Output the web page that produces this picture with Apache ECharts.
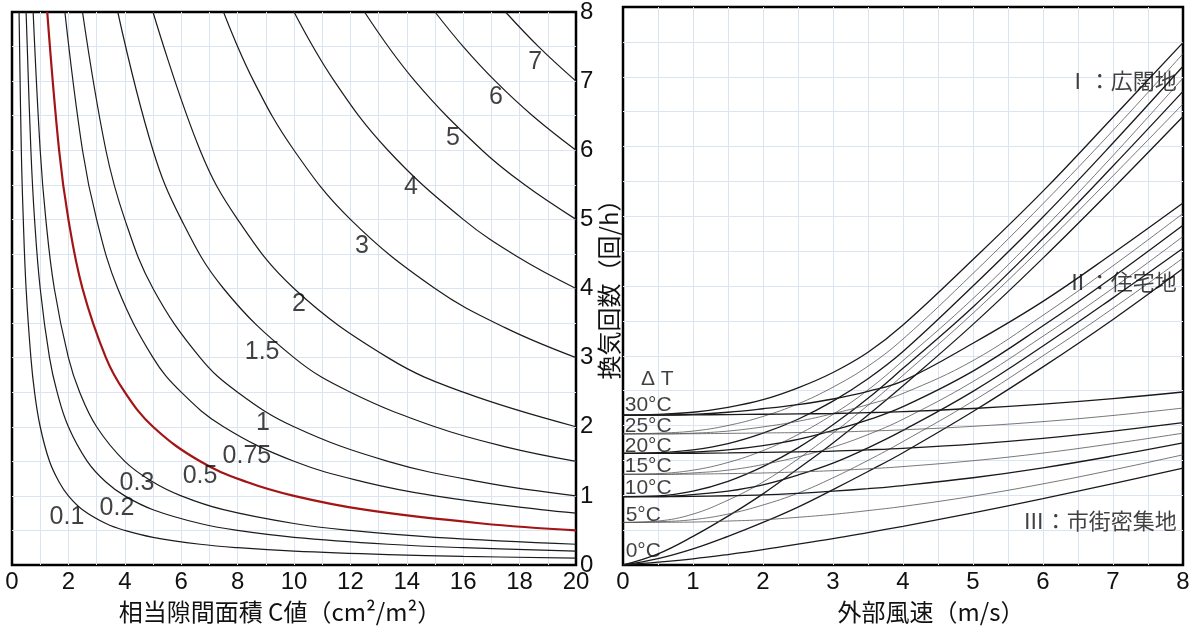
<!DOCTYPE html>
<html>
<head>
<meta charset="utf-8">
<script src="https://cdn.jsdelivr.net/npm/echarts@6/dist/echarts.min.js"></script>
<style>
html,body{margin:0;padding:0;background:#fff;}
#chart{width:1193px;height:633px;}
</style>
</head>
<body>
<div id="chart"></div>
<script>
// ---------- Left panel: 相当隙間面積 C値 vs 換気回数 ----------
const leftXTicks = [0, 2, 4, 6, 8, 10, 12, 14, 16, 18, 20];
const rightXTicks = [0, 1, 2, 3, 4, 5, 6, 7, 8];
const yTicks = [0, 1, 2, 3, 4, 5, 6, 7, 8];

const curveNames = ['0.1', '0.2', '0.3', '0.5', '0.75', '1', '1.5', '2', '3', '4', '5', '6', '7'];
const c_01 = [[0.25,8],[0.33,6],[0.4,5],[0.5,4],[0.67,3],[0.8,2.5],[1,2],[1.33,1.5],[1.67,1.2],[2,1],[2.5,0.8],[3.33,0.6],[4,0.5],[5,0.4],[6.67,0.3],[8,0.25],[10,0.2],[13.33,0.15],[16,0.125],[20,0.1]];
const c_02 = [[0.5,8],[0.67,6],[0.8,5],[1,4],[1.33,3],[1.6,2.5],[2,2],[2.67,1.5],[3.33,1.2],[4,1],[5,0.8],[6.67,0.6],[8,0.5],[10,0.4],[13.33,0.3],[16,0.25],[20,0.2]];
const c_03 = [[0.75,8],[1,6],[1.2,5],[1.5,4],[2,3],[2.4,2.5],[3,2],[4,1.5],[5,1.2],[6,1],[7.5,0.8],[10,0.6],[12,0.5],[15,0.4],[20,0.3]];
const c_05 = [[1.25,8],[1.67,6],[2,5],[2.5,4],[3.33,3],[4,2.5],[5,2],[6.67,1.5],[8.33,1.2],[10,1],[12.5,0.8],[16.67,0.6],[20,0.5]];
const c_075 = [[1.875,8],[2.5,6],[3,5],[3.75,4],[5,3],[6,2.5],[7.5,2],[10,1.5],[12.5,1.2],[15,1],[18.75,0.8],[20,0.75]];
const c_1 = [[2.5,8],[3.33,6],[4,5],[5,4],[6.67,3],[8,2.5],[10,2],[13.33,1.5],[16.67,1.2],[20,1]];
const c_15 = [[3.75,8],[5,6],[6,5],[7.5,4],[10,3],[12,2.5],[15,2],[17.5,1.71],[20,1.5]];
const c_2 = [[5,8],[6.67,6],[8,5],[10,4],[13.33,3],[16,2.5],[20,2]];
const c_3 = [[7.5,8],[8.57,7],[10,6],[12,5],[15,4],[17.5,3.43],[20,3]];
const c_4 = [[10,8],[11.43,7],[13.33,6],[16,5],[18,4.44],[20,4]];
const c_5 = [[12.5,8],[14.29,7],[16.67,6],[18.18,5.5],[20,5]];
const c_6 = [[15,8],[16,7.5],[17.14,7],[18.46,6.5],[20,6]];
const c_7 = [[17.5,8],[18.67,7.5],[20,7]];
const leftCurves = [c_01, c_02, c_03, c_05, c_075, c_1, c_15, c_2, c_3, c_4, c_5, c_6, c_7];
const redCurve = '0.5';

// curve labels [C, n, text]
const leftLabels = [[1.95,0.69,'0.1'],[3.72,0.82,'0.2'],[4.43,1.18,'0.3'],[6.67,1.29,'0.5'],[8.33,1.58,'0.75'],[8.90,2.05,'1'],[8.87,3.08,'1.5'],[10.18,3.78,'2'],[12.41,4.62,'3'],[14.15,5.46,'4'],[15.64,6.18,'5'],[17.16,6.77,'6'],[18.55,7.28,'7']];

// ---------- Right panel: 外部風速 vs 換気回数, by ΔT and terrain ----------
const deltaT = [0, 5, 10, 15, 20, 25, 30];
const windV = [0, 0.5, 1, 1.5, 2, 2.5, 3, 3.5, 4, 5, 6, 7, 8];
// I: 広闊地 (values at windV)
const I_0  = [0, 0.16, 0.41, 0.70, 1.02, 1.38, 1.75, 2.15, 2.57, 3.45, 4.40, 5.40, 6.43];
const I_5  = [0.61, 0.63, 0.73, 0.93, 1.19, 1.52, 1.89, 2.29, 2.72, 3.61, 4.57, 5.58, 6.61];
const I_10 = [0.98, 0.99, 1.06, 1.20, 1.41, 1.68, 2.01, 2.39, 2.82, 3.70, 4.68, 5.72, 6.79];
const I_15 = [1.30, 1.31, 1.36, 1.47, 1.64, 1.87, 2.16, 2.51, 2.93, 3.82, 4.81, 5.87, 6.98];
const I_20 = [1.60, 1.61, 1.65, 1.74, 1.89, 2.09, 2.35, 2.67, 3.06, 4.00, 4.99, 6.05, 7.15];
const I_25 = [1.88, 1.89, 1.92, 2.00, 2.13, 2.31, 2.55, 2.85, 3.24, 4.18, 5.18, 6.23, 7.33];
const I_30 = [2.15, 2.16, 2.19, 2.26, 2.37, 2.54, 2.76, 3.05, 3.44, 4.38, 5.36, 6.42, 7.49];
// II: 住宅地
const II_0  = [0, 0.09, 0.23, 0.41, 0.61, 0.83, 1.08, 1.34, 1.61, 2.20, 2.84, 3.52, 4.25];
const II_5  = [0.61, 0.62, 0.65, 0.73, 0.86, 1.03, 1.25, 1.50, 1.77, 2.35, 3.00, 3.68, 4.40];
const II_10 = [0.98, 0.98, 1.01, 1.06, 1.15, 1.29, 1.46, 1.68, 1.93, 2.49, 3.14, 3.83, 4.54];
const II_15 = [1.30, 1.30, 1.32, 1.36, 1.44, 1.55, 1.69, 1.87, 2.09, 2.63, 3.28, 3.97, 4.71];
const II_20 = [1.60, 1.60, 1.62, 1.65, 1.71, 1.80, 1.93, 2.08, 2.27, 2.78, 3.43, 4.13, 4.87];
const II_25 = [1.88, 1.88, 1.89, 1.92, 1.98, 2.06, 2.17, 2.30, 2.46, 2.93, 3.58, 4.29, 5.04];
const II_30 = [2.15, 2.15, 2.16, 2.19, 2.24, 2.30, 2.38, 2.49, 2.64, 3.18, 3.78, 4.47, 5.19];
// III: 市街密集地
const III_0  = [0, 0.04, 0.088, 0.15, 0.22, 0.30, 0.378, 0.465, 0.555, 0.746, 0.951, 1.168, 1.39];
const III_5  = [0.61, 0.612, 0.616, 0.63, 0.649, 0.684, 0.726, 0.78, 0.84, 0.987, 1.163, 1.364, 1.58];
const III_10 = [0.98, 0.981, 0.984, 0.993, 1.005, 1.028, 1.058, 1.095, 1.139, 1.251, 1.393, 1.563, 1.75];
const III_15 = [1.30, 1.30, 1.303, 1.31, 1.319, 1.334, 1.353, 1.379, 1.411, 1.495, 1.605, 1.74, 1.89];
const III_20 = [1.60, 1.60, 1.602, 1.607, 1.615, 1.623, 1.633, 1.651, 1.673, 1.734, 1.816, 1.92, 2.04];
const III_25 = [1.88, 1.88, 1.882, 1.887, 1.893, 1.898, 1.905, 1.92, 1.938, 1.988, 2.056, 2.144, 2.25];
const III_30 = [2.15, 2.15, 2.152, 2.156, 2.161, 2.166, 2.172, 2.184, 2.20, 2.244, 2.306, 2.385, 2.48];

const groupI = [I_0, I_5, I_10, I_15, I_20, I_25, I_30];
const groupII = [II_0, II_5, II_10, II_15, II_20, II_25, II_30];
const groupIII = [III_0, III_5, III_10, III_15, III_20, III_25, III_30];

const dtLabels = [[0.49,2.67,'Δ T'],[0.36,2.29,'30°C'],[0.36,1.99,'25°C'],[0.36,1.71,'20°C'],[0.36,1.42,'15°C'],[0.36,1.10,'10°C'],[0.29,0.72,'5°C'],[0.29,0.20,'0°C']];
const terrainLabels = [[7.91,6.95,'Ⅰ：広闊地'],[7.91,4.06,'Ⅱ：住宅地'],[7.91,0.63,'Ⅲ：市街密集地']];

// ---------- build chart ----------
const NUM_FONT = '"Liberation Sans Narrow","Arial Narrow","Liberation Sans",sans-serif';
const JP_FONT = '"Noto Sans CJK JP","Noto Sans",sans-serif';
const GRID_COLOR = '#dbe5f1';
const TXT = '#111';

function valueAxis(extra) {
  return Object.assign({
    type: 'value',
    axisLine: { show: false },
    axisTick: { show: false },
    splitLine: { show: true, showMinLine: false, showMaxLine: false, lineStyle: { color: GRID_COLOR, width: 1 } },
    minorTick: { show: false, splitNumber: 2 },
    minorSplitLine: { show: true, lineStyle: { color: GRID_COLOR, width: 1 } },
    axisLabel: { color: TXT, fontFamily: NUM_FONT, fontSize: 24 }
  }, extra);
}

const series = [];
leftCurves.forEach((d, i) => {
  const isRed = curveNames[i] === redCurve;
  series.push({
    type: 'line', xAxisIndex: 0, yAxisIndex: 0, data: d, smooth: 0.4,
    showSymbol: false, symbol: 'none', silent: true, z: isRed ? 3 : 2,
    lineStyle: { color: isRed ? '#a31515' : '#1c1c1c', width: isRed ? 2.2 : 1.2 }
  });
});
series.push({
  type: 'scatter', xAxisIndex: 0, yAxisIndex: 0, symbolSize: 0, silent: true, z: 5,
  data: leftLabels.map(l => ({ value: [l[0], l[1]], name: l[2] })),
  label: { show: true, position: 'inside', formatter: p => p.name, color: TXT, fontFamily: NUM_FONT, fontSize: 25 }
});

[groupI, groupII, groupIII].forEach(group => {
  group.forEach((vals, i) => {
    const heavy = deltaT[i] % 10 === 0;
    series.push({
      type: 'line', xAxisIndex: 1, yAxisIndex: 1, data: vals.map((y, k) => [windV[k], y]), smooth: 0.4,
      showSymbol: false, symbol: 'none', silent: true,
      lineStyle: { color: heavy ? '#1a1a1a' : '#555', width: heavy ? 1.3 : 0.8 }
    });
  });
});
series.push({
  type: 'scatter', xAxisIndex: 1, yAxisIndex: 1, symbolSize: 0, silent: true, z: 5,
  data: dtLabels.map(l => ({ value: [l[0], l[1]], name: l[2] })),
  label: { show: true, position: 'inside', formatter: p => p.name, color: TXT, fontFamily: NUM_FONT, fontSize: 21 }
});
series.push({
  type: 'scatter', xAxisIndex: 1, yAxisIndex: 1, symbolSize: 0, silent: true, z: 5,
  data: terrainLabels.map(l => ({ value: [l[0], l[1]], name: l[2] })),
  label: { show: true, position: 'left', distance: 0, formatter: p => p.name, color: TXT, fontFamily: JP_FONT, fontSize: 22 }
});

const chart = echarts.init(document.getElementById('chart'), null, { renderer: 'canvas' });
chart.setOption({
  animation: false,
  backgroundColor: '#fff',
  grid: [
    { left: 12, top: 7, width: 564, height: 558, show: true, borderColor: '#000', borderWidth: 2.5, backgroundColor: 'transparent' },
    { left: 623, top: 7, width: 560, height: 558, show: true, borderColor: '#000', borderWidth: 2.5, backgroundColor: 'transparent' }
  ],
  xAxis: [
    valueAxis({ gridIndex: 0, min: leftXTicks[0], max: leftXTicks[leftXTicks.length - 1], interval: leftXTicks[1] - leftXTicks[0],
      axisLabel: { color: TXT, fontFamily: NUM_FONT, fontSize: 24, margin: 5 },
      name: '相当隙間面積 C値（cm²/m²）', nameLocation: 'middle', nameGap: 35,
      nameTextStyle: { color: TXT, fontFamily: JP_FONT, fontSize: 24, padding: [0, 28, 0, 0] } }),
    valueAxis({ gridIndex: 1, min: rightXTicks[0], max: rightXTicks[rightXTicks.length - 1], interval: rightXTicks[1] - rightXTicks[0],
      axisLabel: { color: TXT, fontFamily: NUM_FONT, fontSize: 24, margin: 5 },
      name: '外部風速（m/s）', nameLocation: 'middle', nameGap: 35,
      nameTextStyle: { color: TXT, fontFamily: JP_FONT, fontSize: 24, padding: [0, 0, 0, 56] } })
  ],
  yAxis: [
    valueAxis({ gridIndex: 0, position: 'right', min: yTicks[0], max: yTicks[yTicks.length - 1], interval: yTicks[1] - yTicks[0],
      axisLabel: { color: TXT, fontFamily: NUM_FONT, fontSize: 24, margin: 4, padding: [0, 0, 8, 0] },
      name: '換気回数（回/h）', nameLocation: 'middle', nameRotate: 90, nameGap: 20,
      nameTextStyle: { color: TXT, fontFamily: JP_FONT, fontSize: 24, padding: [0, 0, 0, 10] } }),
    valueAxis({ gridIndex: 1, min: yTicks[0], max: yTicks[yTicks.length - 1], interval: yTicks[1] - yTicks[0],
      axisLabel: { show: false } })
  ],
  series: series
});
</script>
</body>
</html>
